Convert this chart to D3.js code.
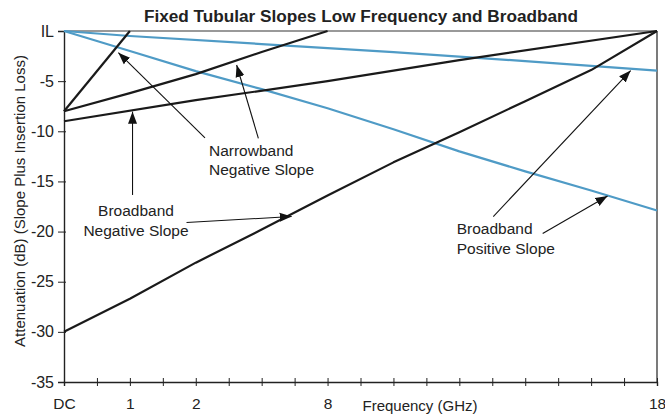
<!DOCTYPE html>
<html>
<head>
<meta charset="utf-8">
<script src="https://cdn.jsdelivr.net/npm/d3@7"></script>
<style>
  html, body { margin: 0; padding: 0; background: #fff; }
  svg { display: block; font-family: "Liberation Sans", Arial, sans-serif; }
</style>
</head>
<body>
<svg id="chart" width="665" height="418"></svg>
<script>
// Frequency positions run 0..18 along the axis; only some carry a label.
const tickPositions = [0,1,2,3,4,5,6,7,8,9,10,11,12,13,14,15,16,17,18];
const tickLabels = { 0: "DC", 2: "1", 4: "2", 8: "8", 18: "18" };
const attenTicks = [0, -5, -10, -15, -20, -25, -30, -35];

// Black curves (narrowband and broadband, rising toward IL)
const narrowSteep = [[0, -8], [2, 0]];
const narrowShallow = [[0, -8], [2, -6.2], [4, -4.3], [6, -2.1], [8, 0]];
const broadFromNine = [[0, -9], [4, -6.9], [8, -5.0], [12, -2.9], [18, 0]];
const broadFromThirty = [[0, -30], [2, -26.7], [4, -23.1], [6, -19.8], [8, -16.4],
                         [10, -13.1], [12, -10.1], [14, -7.0], [16, -3.9], [18, 0]];

// Blue curves (broadband, falling away from IL)
const bluePositiveShallow = [[0, 0], [2, -0.5], [6, -1.3], [10, -2.1], [14, -3.0], [18, -3.95]];
const bluePositiveSteep = [[0, 0], [2, -2.0], [4, -4.0], [6, -5.8], [8, -7.7], [10, -9.8],
                           [12, -12.0], [14, -14.0], [16, -15.9], [18, -17.9]];

// Callout text blocks and their arrows, in axis units
const calloutTexts = [
  { lines: ["Narrowband", "Negative Slope"], at: [4.40, -12.46], anchor: "start" },
  { lines: ["Broadband", "Negative Slope"], at: [2.185, -18.45], anchor: "middle" },
  { lines: ["Broadband", "Positive Slope"], at: [11.92, -20.25], anchor: "start" }
];
const calloutArrows = [
  { from: [4.28, -10.66], to: [1.65, -2.16] },
  { from: [5.90, -10.70], to: [5.24, -3.39] },
  { from: [2.08, -16.35], to: [2.08, -8.04] },
  { from: [3.72, -19.10], to: [6.91, -18.50] },
  { from: [13.03, -18.50], to: [17.20, -3.95] },
  { from: [14.53, -20.20], to: [16.50, -16.45] }
];

const svg = d3.select("#chart");
const margin = { top: 31, right: 8, bottom: 36, left: 64 };
const W = 665, H = 418;

const x = d3.scaleLinear().domain([0, 18]).range([margin.left, W - margin.right]);
const y = d3.scaleLinear().domain([-35, 0]).range([H - margin.bottom, margin.top]);

// Title
svg.append("text")
  .attr("x", 361).attr("y", 21.5)
  .attr("text-anchor", "middle")
  .attr("font-size", 17.2).attr("font-weight", "bold").attr("fill", "#222")
  .text("Fixed Tubular Slopes Low Frequency and Broadband");

// Frame: grey IL line across the top, right edge
svg.append("line")
  .attr("x1", x(0)).attr("x2", x(18)).attr("y1", y(0)).attr("y2", y(0))
  .attr("stroke", "#777").attr("stroke-width", 1.6);
svg.append("line")
  .attr("x1", x(18)).attr("x2", x(18)).attr("y1", y(0)).attr("y2", y(-35))
  .attr("stroke", "#222").attr("stroke-width", 1.2);

// Y axis
const yAxis = svg.append("g")
  .attr("transform", `translate(${margin.left},0)`)
  .call(d3.axisLeft(y).tickValues(attenTicks).tickSizeOuter(0).tickSize(6)
    .tickFormat(d => d === 0 ? "IL" : String(d)));
yAxis.select(".domain").attr("stroke", "#222").attr("stroke-width", 1.4);
yAxis.selectAll(".tick line").attr("x1", 2).attr("stroke", "#222");
yAxis.selectAll(".tick text")
  .attr("x", -10).attr("font-size", 16).attr("fill", "#222")
  .attr("font-family", "Liberation Sans, Arial, sans-serif");

// X axis
const xAxis = svg.append("g")
  .attr("transform", `translate(0,${y(-35)})`)
  .call(d3.axisBottom(x).tickValues(tickPositions).tickSizeOuter(0).tickSize(4)
    .tickFormat(d => tickLabels[d] || ""));
xAxis.select(".domain").attr("stroke", "#222").attr("stroke-width", 1.4);
xAxis.selectAll(".tick line").attr("y1", -4).attr("stroke", "#222");
xAxis.selectAll(".tick text")
  .attr("y", 27).attr("dy", 0).attr("font-size", 15.5).attr("fill", "#222")
  .attr("font-family", "Liberation Sans, Arial, sans-serif");

// Axis titles
svg.append("text")
  .attr("x", 420).attr("y", 411)
  .attr("text-anchor", "middle").attr("font-size", 15).attr("fill", "#222")
  .text("Frequency (GHz)");
svg.append("text")
  .attr("transform", `translate(25,201) rotate(-90)`)
  .attr("text-anchor", "middle").attr("font-size", 15).attr("fill", "#222")
  .text("Attenuation (dB) (Slope Plus Insertion Loss)");

// Curves
const line = d3.line().x(d => x(d[0])).y(d => y(d[1]));
const blue = "#4f9bc6";
const curves = [
  { data: bluePositiveShallow, color: blue },
  { data: bluePositiveSteep, color: blue },
  { data: narrowSteep, color: "#1a1a1a" },
  { data: narrowShallow, color: "#1a1a1a" },
  { data: broadFromNine, color: "#1a1a1a" },
  { data: broadFromThirty, color: "#1a1a1a" }
];
svg.append("g").selectAll("path")
  .data(curves).join("path")
  .attr("d", d => line(d.data))
  .attr("fill", "none")
  .attr("stroke", d => d.color)
  .attr("stroke-width", 2.2)
  .attr("stroke-linejoin", "round");

// Arrowhead marker
svg.append("defs").append("marker")
  .attr("id", "head")
  .attr("markerUnits", "userSpaceOnUse")
  .attr("viewBox", "0 0 12 10")
  .attr("refX", 12).attr("refY", 5)
  .attr("markerWidth", 12).attr("markerHeight", 10)
  .attr("orient", "auto")
  .append("path").attr("d", "M0,0.5 L12,5 L0,9.5 Z").attr("fill", "#111");

svg.append("g").selectAll("line")
  .data(calloutArrows).join("line")
  .attr("x1", d => x(d.from[0])).attr("y1", d => y(d.from[1]))
  .attr("x2", d => x(d.to[0])).attr("y2", d => y(d.to[1]))
  .attr("stroke", "#111").attr("stroke-width", 1.1)
  .attr("marker-end", "url(#head)");

// Callout text
calloutTexts.forEach(c => {
  const t = svg.append("text")
    .attr("text-anchor", c.anchor)
    .attr("font-size", 15.5).attr("fill", "#222");
  c.lines.forEach((s, i) => {
    t.append("tspan")
      .attr("x", x(c.at[0]))
      .attr("y", y(c.at[1]) + i * 19.5)
      .text(s);
  });
});
</script>
</body>
</html>
